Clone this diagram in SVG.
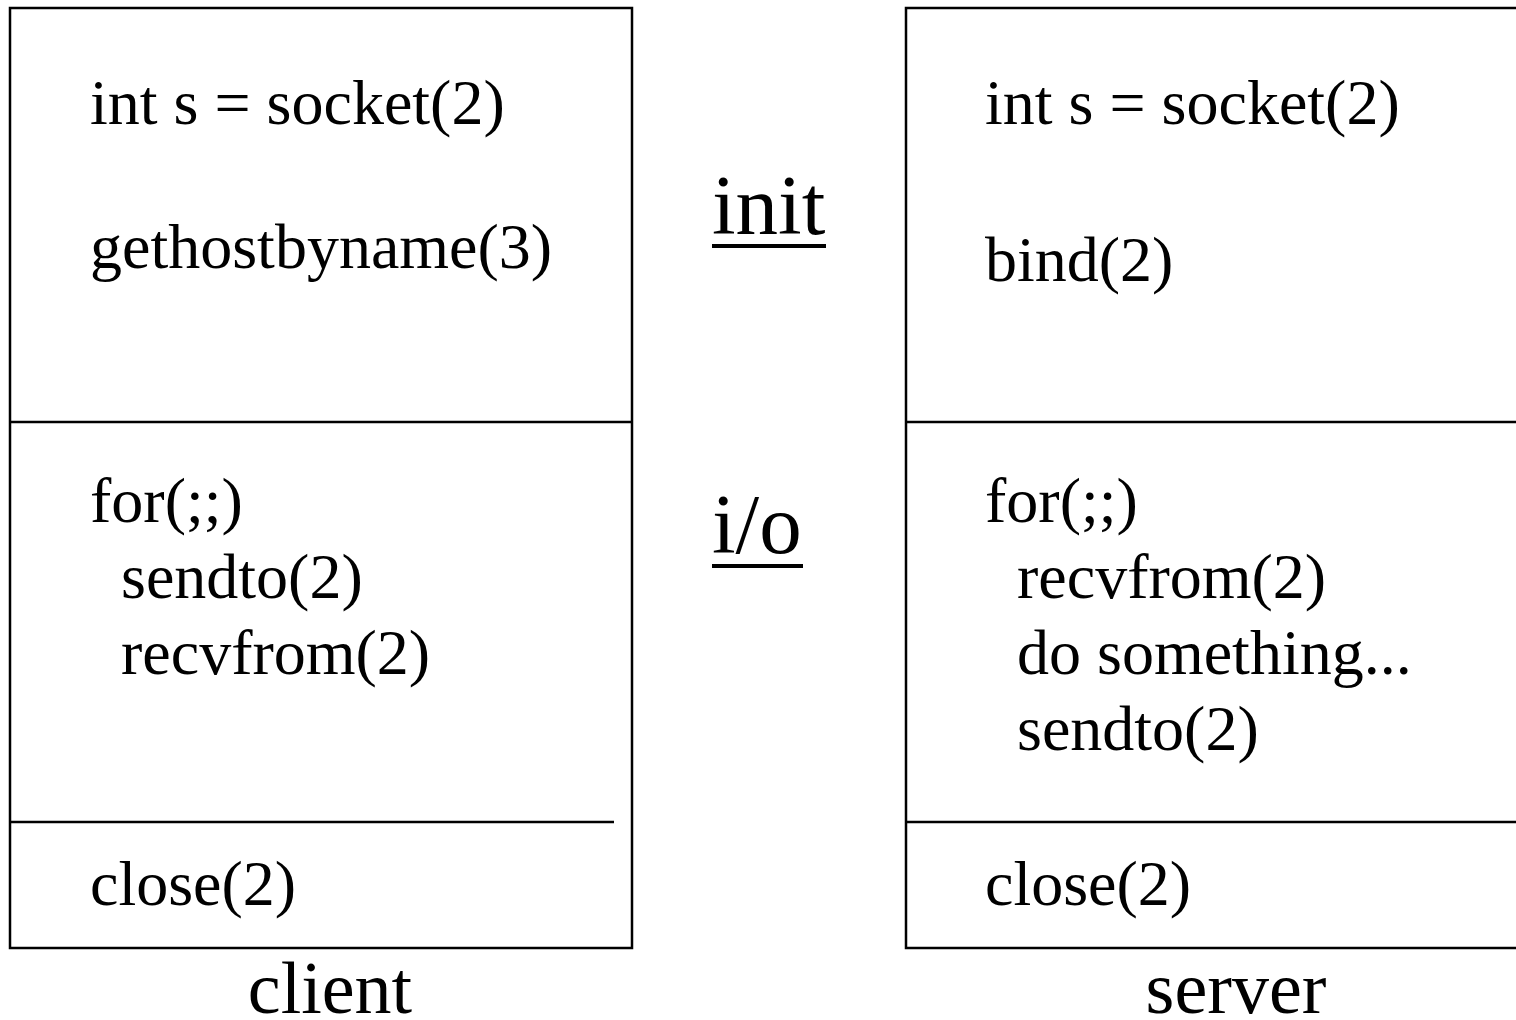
<svg xmlns="http://www.w3.org/2000/svg" width="1516" height="1020" viewBox="0 0 1516 1020">
<style>
.box{fill:none;stroke:#000;stroke-width:2.5}
.t{font-family:"Liberation Serif","Times New Roman",serif;font-size:64px;fill:#000}
.lbl{font-family:"Liberation Serif","Times New Roman",serif;font-size:74px;fill:#000;text-anchor:middle}
.ph{font-family:"Liberation Serif","Times New Roman",serif;font-size:85px;fill:#000}
.ul{stroke:#000;stroke-width:4}
</style>
<rect width="1516" height="1020" fill="#fff"/>
<g id="client">
<rect class="box" x="10" y="8" width="622" height="940"/>
<line class="box" x1="10" y1="422" x2="632" y2="422"/>
<line class="box" x1="10" y1="822" x2="614" y2="822"/>
<text class="t" x="90" y="124">int s = socket(2)</text>
<text class="t" x="90" y="268">gethostbyname(3)</text>
<text class="t" x="90" y="522">for(;;)</text>
<text class="t" x="121" y="598">sendto(2)</text>
<text class="t" x="121" y="674">recvfrom(2)</text>
<text class="t" x="90" y="905">close(2)</text>
<text class="lbl" x="330" y="1013">client</text>
</g>
<g id="server">
<path class="box" d="M1520 8 H906 V948 H1520"/>
<line class="box" x1="906" y1="422" x2="1520" y2="422"/>
<line class="box" x1="906" y1="822" x2="1520" y2="822"/>
<text class="t" x="985" y="124">int s = socket(2)</text>
<text class="t" x="985" y="281">bind(2)</text>
<text class="t" x="985" y="522">for(;;)</text>
<text class="t" x="1017" y="598">recvfrom(2)</text>
<text class="t" x="1017" y="674">do something...</text>
<text class="t" x="1017" y="750">sendto(2)</text>
<text class="t" x="985" y="905">close(2)</text>
<text class="lbl" x="1236" y="1013">server</text>
</g>
<g id="phases">
<text class="ph" x="712" y="234">init</text>
<line class="ul" x1="712" y1="246" x2="826" y2="246"/>
<text class="ph" x="712" y="553">i/o</text>
<line class="ul" x1="712" y1="566" x2="803" y2="566"/>
</g>
<g id="connectors"></g>
</svg>
